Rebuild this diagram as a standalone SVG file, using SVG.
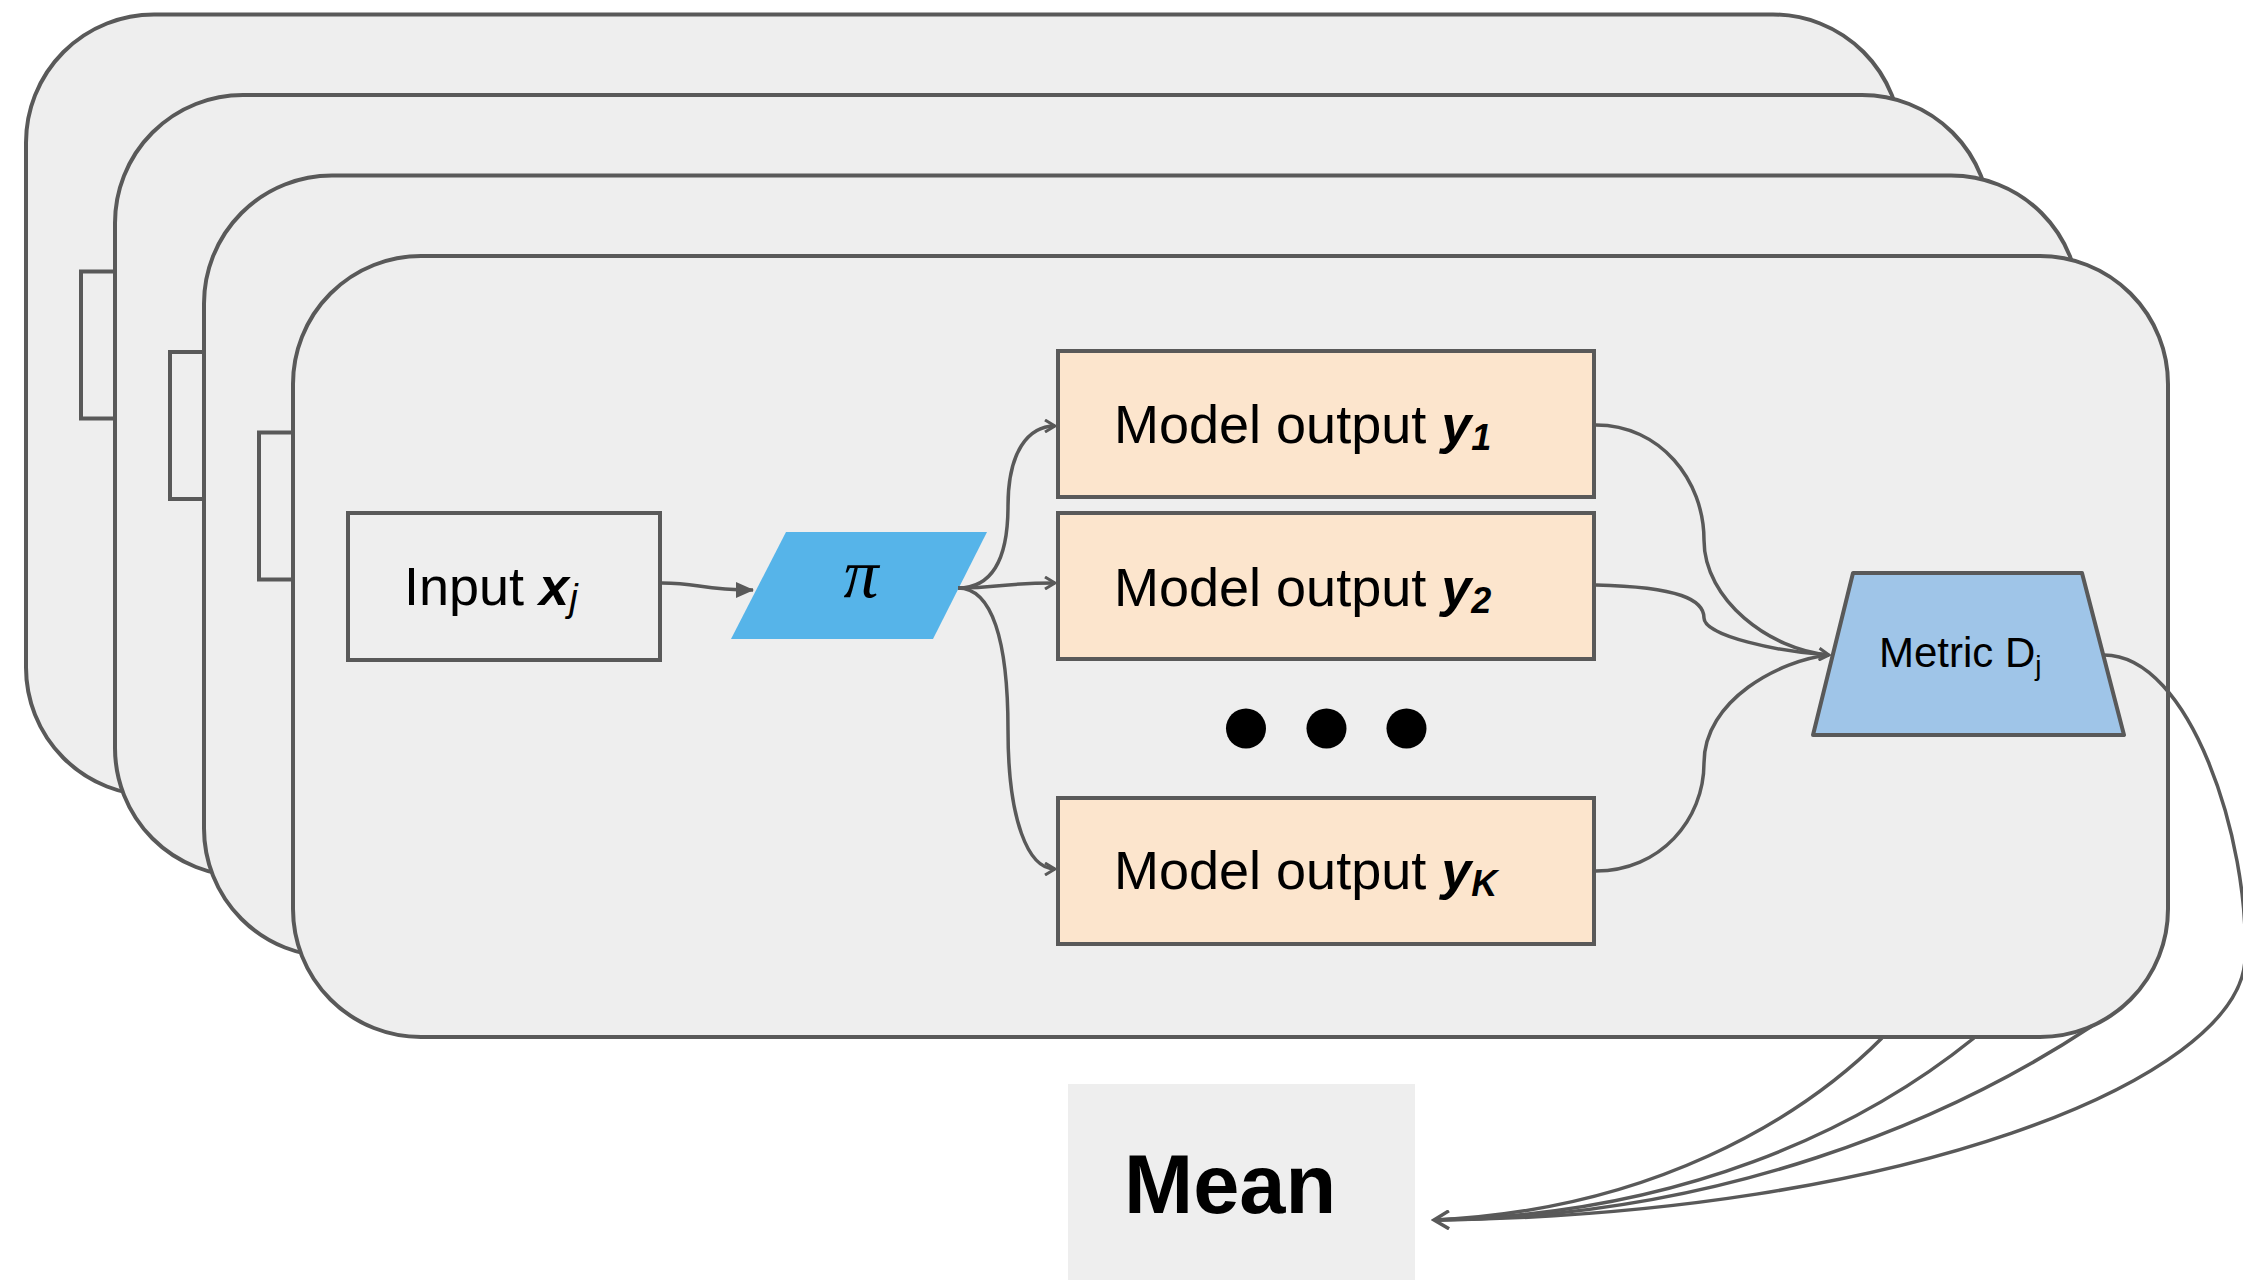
<svg xmlns="http://www.w3.org/2000/svg" width="2243" height="1280" viewBox="0 0 2243 1280">
<style>
.layer{fill:#eeeeee;stroke:#595959;stroke-width:4}
.box{fill:#eeeeee;stroke:#595959;stroke-width:4}
.out{fill:#fce5cd;stroke:#595959;stroke-width:4}
.conn{fill:none;stroke:#595959;stroke-width:3.5}
.lbl{font-family:"Liberation Sans",Arial,sans-serif;font-size:54px;fill:#000}
.bi{font-weight:bold;font-style:italic}
</style>
<defs>
<marker id="tri" viewBox="0 0 18 16" refX="17" refY="8" markerWidth="18" markerHeight="16" markerUnits="userSpaceOnUse" orient="auto"><path d="M0,0 L18,8 L0,16 z" fill="#595959"/></marker>
<marker id="open" viewBox="0 0 14 14" refX="12" refY="7" markerWidth="14" markerHeight="14" markerUnits="userSpaceOnUse" orient="auto"><path d="M2,1 L12,7 L2,13" fill="none" stroke="#595959" stroke-width="3"/></marker>
<marker id="openL" viewBox="0 0 20 20" refX="17" refY="10" markerWidth="20" markerHeight="20" markerUnits="userSpaceOnUse" orient="auto"><path d="M2,1 L17,10 L2,19" fill="none" stroke="#595959" stroke-width="3.5"/></marker>
</defs>
<rect width="2243" height="1280" fill="#ffffff"/>
<g id="layer1">
<rect class="layer" x="26" y="14.5" width="1875" height="781" rx="128" ry="128"/>
<rect class="box" x="81" y="271.5" width="312" height="147"/>
</g>
<g id="layer2">
<rect class="layer" x="115" y="95" width="1875" height="781" rx="128" ry="128"/>
<rect class="box" x="170" y="352" width="312" height="147"/>
</g>
<g id="layer3">
<rect class="layer" x="204" y="175.5" width="1875" height="781" rx="128" ry="128"/>
<rect class="box" x="259" y="432.5" width="312" height="147"/>
</g>
<g id="layer4">
<rect class="layer" x="293" y="256" width="1875" height="781" rx="128" ry="128"/>
</g>
<g id="input">
<rect class="box" x="348" y="513" width="312" height="147"/>
<text class="lbl" x="404" y="605">Input <tspan class="bi">x</tspan><tspan font-style="italic" font-size="38" dy="6">j</tspan></text>
</g>
<g id="pi">
<polygon points="786,532 987,532 933,639 731,639" fill="#56b4e9"/>
<text x="861" y="597" font-family="Liberation Serif,serif" font-style="italic" font-size="70" text-anchor="middle">π</text>
</g>
<g id="out1">
<rect class="out" x="1058" y="351" width="536" height="146"/>
<text class="lbl" x="1114" y="443">Model output <tspan class="bi">y</tspan><tspan class="bi" font-size="36" dy="7">1</tspan></text>
</g>
<g id="out2">
<rect class="out" x="1058" y="513" width="536" height="146"/>
<text class="lbl" x="1114" y="606">Model output <tspan class="bi">y</tspan><tspan class="bi" font-size="36" dy="7">2</tspan></text>
</g>
<g id="dots">
<circle cx="1246" cy="728.5" r="20" fill="#000"/>
<circle cx="1326.5" cy="728.5" r="20" fill="#000"/>
<circle cx="1406.5" cy="728.5" r="20" fill="#000"/>
</g>
<g id="outK">
<rect class="out" x="1058" y="798" width="536" height="146"/>
<text class="lbl" x="1114" y="889">Model output <tspan class="bi">y</tspan><tspan class="bi" font-size="36" dy="7">K</tspan></text>
</g>
<g id="metric">
<polygon points="1853,573 2082,573 2124,735 1813,735" fill="#9fc5e8" stroke="#595959" stroke-width="4" stroke-linejoin="round"/>
<text x="1879" y="667" font-family="Liberation Sans,Arial,sans-serif" font-size="42">Metric D<tspan font-size="28" dy="8">j</tspan></text>
</g>
<g id="mean">
<rect x="1068" y="1084" width="347" height="196" fill="#eeeeee"/>
<text x="1124" y="1213" font-family="Liberation Sans,Arial,sans-serif" font-weight="bold" font-size="83">Mean</text>
</g>
<g id="connectors">
<path class="conn" d="M662,583 C700,583 700,590 753,590" marker-end="url(#tri)"/>
<path class="conn" d="M958,588 C992,588 1008,560 1008,506 C1008,452 1028,426 1055,426" marker-end="url(#open)"/>
<path class="conn" d="M958,588 C1000,588 1000,583 1055,583" marker-end="url(#open)"/>
<path class="conn" d="M958,588 C992,588 1008,640 1008,730 C1008,820 1028,869 1055,869" marker-end="url(#open)"/>
<path class="conn" d="M1596,425 C1660,425 1704,480 1704,540 C1704,600 1770,650 1829,655" marker-end="url(#open)"/>
<path class="conn" d="M1596,585 C1680,587 1704,600 1704,618 C1704,636 1780,652 1829,655"/>
<path class="conn" d="M1596,871 C1660,871 1704,820 1704,763 C1704,700 1780,660 1829,655"/>
<path class="conn" d="M2104,655 C2190,655 2250,840 2245,960 C2238,1080 1900,1215 1434,1220" marker-end="url(#openL)"/>
<path class="conn" d="M1882,1038 C1800,1120 1650,1210 1434,1220"/>
<path class="conn" d="M1974,1038 C1860,1130 1680,1215 1434,1220"/>
<path class="conn" d="M2092,1026 C1950,1120 1720,1218 1434,1220"/>
</g>
</svg>
